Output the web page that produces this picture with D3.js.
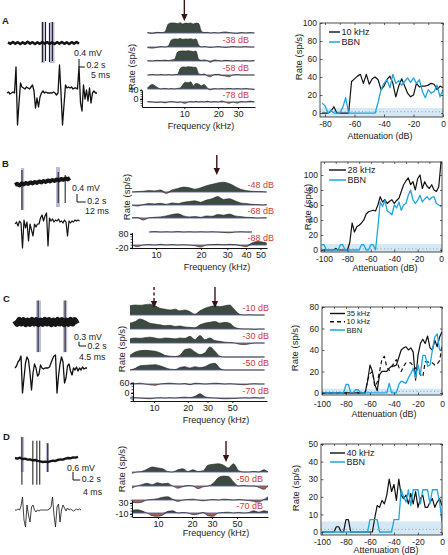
<!DOCTYPE html>
<html><head><meta charset="utf-8">
<script src="https://cdn.jsdelivr.net/npm/d3@7"></script>
<style>body{margin:0;background:#fff}svg{display:block}</style>
</head><body>
<svg id="chart" width="448" height="555"></svg>
<script>
// ================= DATA =================
const panelLetters = ["A", "B", "C", "D"];

// ---- left column: recordings (mV over sweep, s) ----
const traceDur = [2.4, 1.26, 1.77, 1.73];
const scaleBarMV = [0.4, 0.4, 0.3, 0.6];
const scaleBarLabels = [["0.4 mV", "0.2 s", "5 ms"], ["0.4 mV", "0.2 s", "12 ms"], ["0.3 mV", "0.2 s", "4.5 ms"], ["0.6 mV", "0.2 s", "4 ms"]];
const traceA = [0.03,-0.04,0.05,-0.03,0.04,-0.05,0.03,-0.04,0.06,-0.03,0.04,-0.05,0.03,-0.04,0.05,-0.03,0.04,-0.04,0.03,-0.05,0.04,-0.03,0.05,-0.04,0.03,-0.05,0.04,-0.03,0.05,-0.04];
const traceB = [0.00,0.06,-0.02,0.08,0.03,0.10,0.05,0.13,0.08,0.15,0.10,0.18,0.13,0.20,0.15,0.23,0.18,0.25,0.20,0.28,0.23,0.30,0.26,0.33,0.28,0.35];
const traceC = [0.1,-0.12,0.15,-0.1,0.12,-0.15,0.1,-0.12,0.14,-0.1,0.12,-0.14,0.1,-0.12,0.15,-0.1,0.12,-0.15,0.1,-0.12,0.14,-0.1,0.12,-0.14,0.1,-0.12,0.15,-0.1,0.12,-0.12];
const traceD = [0,-0.05,0.02,-0.08,-0.05,-0.12,-0.1,-0.18,-0.15,-0.22,-0.25,-0.3,-0.27,-0.3,-0.25,-0.2,-0.22,-0.15,-0.1,-0.12,-0.05,0,-0.02,0.05,0.03,0.08];
// spikes: time (s), upper & lower excursion (mV)
const spikeTimesA = [1.17, 1.27, 1.40, 1.50], spikeUpA = [1.05, 1.05, 1.0, 1.05], spikeDownA = [-0.95, -0.9, -0.95, -0.9];
const spikeTimesB = [0.16, 0.99, 1.15], spikeUpB = [0.75, 0.65, 0.5], spikeDownB = [-1.25, -0.9, -0.9];
const spikeTimesC = [0.66, 1.43], spikeUpC = [1.5, 1.5], spikeDownC = [-2.1, -2.1];
const spikeTimesD = [0.19, 0.49, 0.6, 0.68, 0.9], spikeUpD = [1.58, 1.3, 1.3, 1.3, 1.1], spikeDownD = [-2.0, -2.0, -2.0, -2.0, -1.05];
// highlighted windows: [t0, t1, top mV, bottom mV]
const windowsA = [[1.12, 1.24, 1.05, -1.0], [1.40, 1.57, 1.05, -1.0]];
const windowsB = [[0.14, 0.21, 0.85, -1.25], [0.94, 1.03, 0.9, -1.1]];
const windowsC = [[0.6, 0.74, 1.5, -2.1], [1.37, 1.49, 1.5, -2.1]];
const windowsD = [[0.16, 0.25, 1.58, -1.05], [0.85, 0.93, 1.13, -1.05]];
// spike waveforms (a.u.)
const waveA = [0,1,-1,0,1,0,26,-32,-10,10,6,5,4,6,5,4,6,8,2,-15,-5,-14,-4,0,2,0,1,0,0,0,0,1,0,-2,0,28,0,-32,-12,8,5,6,5,6,4,5,5,4,26,-10,-18,8,-6,3,-8,5,-10,0,2,0,0];
const waveB = [0,2,-2,3,1,-24,4,-4,2,-17,0,-6,-12,0,-3,0,0,6,9,3,8,11,-22,6,3,5,2,4,3,5,2,3,1,4,2,-12,3,1,3,2,4,3,4,3];
const waveC = [0,2,6,8,12,-25,-10,5,11,8,-5,-22,-5,4,0,-8,-6,3,0,-1,0,0,0,1,5,9,12,13,-25,-8,4,11,6,-15,-10,2,4,-3,-7,0,-2,1,-3,0,-2,1,-1,0,0];
const waveD = [0,0,1,0,4,13,-10,-17,5,-5,-12,3,5,0,-2,0,-1,0,0,0,0,0,0,1,3,13,-5,-17,3,6,-12,0,5,2,-1,2,0,1,0,-1,0,1,0,1,0];

// ---- middle column: frequency response at several levels (sp/s) ----
const freqA = [4.7,5.2,5.7,6.2,6.7,7.2,7.7,8.2,8.7,9.2,9.7,10.2,10.8,11.4,12,12.7,13.4,14.2,15,16,17,18.5,20,21.5,23,25,27,29.5,32,35,38,42];
const levelsA = [-28, -38, -48, -58, -68, -78];
const rowsA = [
  [2,-2,3,2,5,40,45,44,42,46,40,44,43,45,40,44,42,8,2,3,0,2,0,3,5,2,0,-2,2,0,2,0],
  [-3,-5,-2,2,0,5,32,36,35,38,34,36,35,37,33,36,10,0,2,0,-2,0,2,0,-2,0,2,0,0,2,0,0],
  [2,0,3,2,4,2,5,8,40,44,45,44,46,44,42,44,8,3,5,2,-6,5,2,0,3,2,0,2,0,2,0,3],
  [0,2,0,2,0,2,0,2,3,30,36,35,37,36,35,34,6,2,5,-4,-8,2,3,-2,-4,-8,0,2,0,0,0,0],
  [5,20,8,0,3,0,2,0,3,5,20,30,28,32,15,25,22,15,20,5,-4,2,0,2,0,3,0,2,0,2,0,-3],
  [2,0,-2,0,-4,0,2,0,-3,0,-4,-6,0,2,0,3,0,2,0,4,0,2,0,5,0,-6,0,-5,2,0,4,0]
];
const freqB = [6.9,7.5,8.2,9,9.8,10.7,11.7,12.8,14,15.3,16.7,18.2,19.9,21.7,23.7,25.9,28.3,30.9,33.7,36.8,40.2,43.9,47.9,52.3,55];
const levelsB = [-48, -58, -68, -78, -88];
const rowsB = [
  [0,3,5,10,8,15,-10,15,25,35,30,20,30,45,55,65,70,60,40,20,10,5,3,2,0],
  [0,-8,3,10,8,12,5,15,10,20,25,30,20,35,45,60,40,45,30,15,10,5,3,0,5],
  [2,3,-15,2,5,8,15,25,30,15,8,10,5,15,12,25,20,28,15,10,5,3,0,2,0],
  [null,null,null,0,3,0,2,0,3,0,2,0,2,0,2,0,-3,-6,0,2,0,0,null,null,null],
  [0,-12,0,3,0,5,0,3,0,2,0,-5,-15,0,3,5,2,5,3,-5,-12,15,25,20,15]
];
const freqC = [6.1,6.8,7.5,8.3,9.2,10.2,11.3,12.5,13.9,15.4,17,18.9,20.9,23.2,25.7,28.4,31.5,34.9,38.7,42.8,47.4,52.5,58.2,64.5,71.4,79.1,87.6,97];
const levelsC = [-10, -20, -30, -40, -50, -60, -70];
const rowsC = [
  [55,60,58,62,65,55,40,35,30,35,25,30,20,5,25,40,50,55,50,55,60,30,5,0,2,0,0,0],
  [35,45,60,50,35,30,25,20,22,15,18,12,10,8,25,35,40,45,35,40,35,10,2,0,0,-3,0,0],
  [25,30,28,32,35,30,25,30,28,25,30,28,40,20,45,20,30,15,10,5,3,0,-8,-10,-5,0,0,0],
  [10,30,38,40,38,35,25,10,5,3,10,45,50,30,15,25,60,35,5,0,0,0,0,0,0,0,0,0],
  [0,10,25,28,30,32,25,15,5,3,15,20,12,20,15,20,35,40,10,0,0,0,0,0,0,0,0,0],
  [0,2,5,0,-5,-8,0,3,5,2,0,3,-5,5,3,0,2,5,3,0,2,0,-3,-5,0,2,0,0],
  [0,2,0,-3,-5,0,2,0,2,0,3,5,3,10,25,8,2,0,-3,-5,-4,-3,0,2,0,3,0,2]
];
const freqD = [5.9,6.5,7.2,8,8.9,9.9,11,12.2,13.5,15,16.6,18.4,20.4,22.6,25.1,27.8,30.8,34.2,37.9,42,46.6,51.7,57.3,63.5,70.4,78,86.5,94];
const levelsD = [-40, -50, -60, -70];
const rowsD = [
  [-5,0,2,10,18,15,12,2,0,8,12,2,8,2,5,25,28,30,25,15,30,5,0,0,2,0,8,0],
  [-8,0,5,10,5,12,8,10,0,-8,-3,2,0,-10,-3,0,10,30,36,35,15,0,2,0,0,-5,-12,0],
  [-8,-10,-8,0,2,5,10,12,3,-5,0,2,3,0,-3,0,2,0,3,2,0,2,0,-2,-5,-8,2,12],
  [10,12,8,0,-10,-12,-8,6,8,0,2,0,-6,-4,2,-10,-12,0,2,3,0,2,0,2,8,3,8,5]
];
const labeledLevels = [[-38, -58, -78], [-48, -68, -88], [-10, -30, -50, -70], [-50, -70]];
const freqTicks = [[10, 20, 30], [10, 20, 30, 40, 50], [10, 20, 30, 50], [10, 20, 30, 50]];
const rateTicksMid = [[0, 40], [-20, 80], [0, 60], [-10, 30]];
const arrowFreqs = [[10], [25.5], [35], [40]];
const dashedArrowFreqs = [[], [], [10], []];

// ---- right column: rate vs attenuation ----
const attA = [-82,-80,-78,-76,-74,-72,-70,-68,-66,-64,-62,-60,-58,-56,-54,-52,-50,-48,-46,-44,-42,-40,-38,-36,-34,-32,-30,-28,-26,-24,-22,-20,-18,-16,-14,-12,-10,-8,-6,-4,-2,0];
const attB = [-102,-100,-98,-96,-94,-92,-90,-88,-86,-84,-82,-80,-78,-76,-74,-72,-70,-68,-66,-64,-62,-60,-58,-56,-54,-52,-50,-48,-46,-44,-42,-40,-38,-36,-34,-32,-30,-28,-26,-24,-22,-20,-18,-16,-14,-12,-10,-8,-6,-4,-2,0];
const attCD = [-100,-98,-96,-94,-92,-90,-88,-86,-84,-82,-80,-78,-76,-74,-72,-70,-68,-66,-64,-62,-60,-58,-56,-54,-52,-50,-48,-46,-44,-42,-40,-38,-36,-34,-32,-30,-28,-26,-24,-22,-20,-18,-16,-14,-12,-10,-8,-6,-4,-2,0];
const toneA10k = [0,0,0,2,7,0,0,0,0,0,35,38,41,43,33,43,32,38,40,37,26,30,37,41,33,18,30,38,30,22,18,20,33,29,30,30,31,33,32,26,30,28];
const bbnA = [11,8,0,3,0,0,0,6,17,0,0,0,0,0,0,0,0,0,0,12,26,33,37,28,43,33,36,31,35,39,34,39,33,37,24,17,26,22,24,31,18,26];
const toneB28k = [0,0,0,0,0,0,2,0,0,0,0,0,10,36,24,31,33,36,40,48,51,52,53,52,60,71,64,67,62,65,67,62,66,69,78,87,92,96,87,91,80,95,100,82,91,85,82,87,80,78,84,118];
const bbnB = [7,7,0,0,0,0,0,0,7,7,0,0,0,0,0,0,0,7,7,0,0,7,7,0,30,64,58,66,52,50,47,60,56,64,53,60,62,73,80,67,62,66,73,64,68,71,67,70,71,62,60,58];
const toneC35k = [0,0,0,0,0,0,0,0,0,0,0,0,0,0,0,0,0,0,0,11,26,20,8,2,17,20,20,20,23,25,25,26,33,40,42,43,40,42,38,12,35,46,50,46,53,42,40,49,43,52,57];
const toneC10k = [0,0,0,0,0,0,0,0,0,0,0,0,0,0,0,0,0,0,0,12,18,20,6,10,20,32,34,24,21,24,28,31,24,20,25,28,28,28,25,23,21,17,15,29,29,28,28,26,27,30,43];
const bbnC = [0,0,0,0,0,0,0,0,0,0,8,8,0,0,3,3,0,0,0,0,0,0,0,0,0,0,0,0,9,0,0,0,8,11,10,9,14,18,23,14,26,17,35,35,25,26,40,52,55,40,41];
const toneD40k = [0,0,0,0,0,0,3,3,0,0,7,7,0,0,0,0,0,0,0,0,0,0,8,15,14,18,16,21,30,23,27,18,30,21,19,21,16,22,16,23,14,19,21,14,14,17,19,14,17,19,15];
const bbnD = [0,0,0,0,0,0,0,0,0,0,0,0,0,0,0,0,0,0,0,0,7,7,7,7,0,0,0,0,0,0,7,7,7,24,20,17,24,15,24,24,24,16,24,24,24,16,24,24,24,17,6];
const legendA = ["10 kHz", "BBN"], legendB = ["28 kHz", "BBN"], legendC = ["35 kHz", "10 kHz", "BBN"], legendD = ["40 kHz", "BBN"];
const spontTop = [5.5, 8, 4, 6];      // spontaneous-rate band (sp/s)
const spontLine = [1.5, 1.5, 1.5, 1.5];
const xTicksA = [-80, -60, -40, -20, 0], xTicksBCD = [-100, -80, -60, -40, -20, 0];
const yTicksA = [0, 20, 40, 60, 80, 100], yTicksB = [0, 20, 40, 60, 80, 100], yTicksC = [0, 20, 40, 60, 80], yTicksD = [0, 10, 20, 30, 40, 50];

// ================= DRAW =================
const FONT = '"Liberation Sans", Arial, Helvetica, sans-serif';
const svg = d3.select("#chart").style("font-family", FONT);
const TXT = "#1a1a1a", CYAN = "#1ea6df", RED = "#d2383b";

function text(x, y, s, o = {}) {
  const t = svg.append("text").attr("x", x).attr("y", y).text(s)
    .attr("font-size", o.size || 9).attr("fill", o.fill || TXT)
    .attr("text-anchor", o.anchor || "start");
  if (o.weight) t.attr("font-weight", o.weight);
  if (o.rotate) t.attr("transform", `rotate(-90,${x},${y})`);
  return t;
}

// panel letters
[[2, 24], [2, 167], [3, 302], [3, 440]].forEach((p, i) => text(p[0], p[1], panelLetters[i], {size: 9.5, weight: "bold"}));

// ---- recordings ----
function recording(c) {
  const g = svg.append("g");
  const xt = d3.scaleLinear().domain([0, c.dur]).range([c.x0, c.x1]);
  const k = c.barPx / c.barMV;
  const ym = v => c.y0 - v * k;
  c.windows.forEach(w => g.append("rect").attr("x", xt(w[0])).attr("width", xt(w[1]) - xt(w[0]))
    .attr("y", ym(w[2])).attr("height", ym(w[3]) - ym(w[2])).attr("fill", "#adafd1").attr("opacity", 0.85));
  const n = c.trace.length;
  g.append("path").datum(c.trace)
    .attr("d", d3.line().x((d, i) => xt(i * c.dur / (n - 1))).y(d => ym(d)))
    .attr("fill", "none").attr("stroke", "#151515").attr("stroke-width", c.tw).attr("stroke-linejoin", "round");
  c.spikes.forEach((t, i) => g.append("line").attr("x1", xt(t)).attr("x2", xt(t))
    .attr("y1", ym(c.up[i])).attr("y2", ym(c.down[i])).attr("stroke", "#111").attr("stroke-width", 1));
  // scale bar
  const hb = xt(0.2) - xt(0);
  g.append("path").attr("d", `M${c.cx},${c.cy - c.barPx}V${c.cy}H${c.cx + hb}`).attr("fill", "none").attr("stroke", "#111").attr("stroke-width", 1);
  text(c.mvPos[0], c.mvPos[1], c.labels[0], {size: 8.8});
  text(c.cx + hb + 1.5, c.cy + c.sOff, c.labels[1], {size: 8.8});
  text(c.msPos[0], c.msPos[1], c.labels[2], {size: 8.8});
  // waveform
  const xw = d3.scaleLinear().domain([0, c.wave.length - 1]).range(c.wx);
  g.append("path").datum(c.wave).attr("d", d3.line().x((d, i) => xw(i)).y(d => c.wy - d))
    .attr("fill", "none").attr("stroke", "#111").attr("stroke-width", c.ww).attr("stroke-linejoin", "round");
}
recording({dur: traceDur[0], x0: 8, x1: 79, y0: 43, barPx: 8, barMV: scaleBarMV[0], trace: traceA, tw: 2.6,
  windows: windowsA, spikes: spikeTimesA, up: spikeUpA, down: spikeDownA, cx: 79, cy: 67, sOff: 0.5, labels: scaleBarLabels[0],
  mvPos: [74, 56], msPos: [91, 77.5], wave: waveA, wx: [7, 97], wy: 93, ww: 1.3});
recording({dur: traceDur[1], x0: 15, x1: 70, y0: 185, barPx: 8, barMV: scaleBarMV[1], trace: traceB, tw: 4,
  windows: windowsB, spikes: spikeTimesB, up: spikeUpB, down: spikeDownB, cx: 77, cy: 202, sOff: 1.5, labels: scaleBarLabels[1],
  mvPos: [72, 191], msPos: [85, 214], wave: waveB, wx: [15, 79.5], wy: 224, ww: 1.2});
recording({dur: traceDur[2], x0: 15, x1: 77, y0: 322, barPx: 4.3, barMV: scaleBarMV[2], trace: traceC, tw: 6,
  windows: windowsC, spikes: spikeTimesC, up: spikeUpC, down: spikeDownC, cx: 79, cy: 346, sOff: 2.5, labels: scaleBarLabels[2],
  mvPos: [74, 340], msPos: [79, 359.5], wave: waveC, wx: [15, 87], wy: 368, ww: 1.3});
recording({dur: traceDur[3], x0: 15, x1: 78, y0: 458, barPx: 8, barMV: scaleBarMV[3], trace: traceD, tw: 2.4,
  windows: windowsD, spikes: spikeTimesD, up: spikeUpD, down: spikeDownD, cx: 73, cy: 480, sOff: 2, labels: scaleBarLabels[3],
  mvPos: [67, 471], msPos: [83, 495], wave: waveD, wx: [15, 81], wy: 510, ww: 0.8});

// ---- frequency tuning panels ----
function tuning(c) {
  const g = svg.append("g");
  const x = d3.scaleLog().domain(c.fDom).range(c.xr);
  c.rows.forEach((vals, r) => {
    const base = c.bases[r];
    const pts = vals.map((v, i) => ({f: c.freq[i], v})).filter(d => d.v !== null);
    const cv = d3.curveMonotoneX;
    g.append("path").datum(pts).attr("d", d3.area().curve(cv).x(d => x(d.f)).y0(base).y1(d => base - Math.max(d.v, 0) * c.k))
      .attr("fill", "#3d4a42");
    g.append("path").datum(pts).attr("d", d3.area().curve(cv).x(d => x(d.f)).y0(base).y1(d => base - Math.min(d.v, 0) * c.k))
      .attr("fill", "#a6634b");
    g.append("line").attr("x1", x(pts[0].f)).attr("x2", x(pts[pts.length - 1].f)).attr("y1", base).attr("y2", base)
      .attr("stroke", "#5a5e96").attr("stroke-width", 0.9);
    g.append("path").datum(pts).attr("d", d3.line().curve(cv).x(d => x(d.f)).y(d => base - d.v * c.k))
      .attr("fill", "none").attr("stroke", "#222").attr("stroke-width", 0.6);
    if (c.labeled.includes(c.levels[r])) text(c.dbRight, base - 4, c.levels[r] + " dB", {anchor: "end", fill: RED});
  });
  // x axis
  const ax = g.append("g").attr("transform", `translate(0,${c.axisY})`)
    .call(d3.axisBottom(x).tickValues(c.fticks).tickFormat(d => String(d)).tickSize(2).tickSizeOuter(0).tickPadding(2));
  ax.selectAll("text").attr("font-size", 9).attr("fill", TXT).attr("font-family", FONT);
  ax.selectAll("line,path").attr("stroke", "#111");
  // y axis
  const y = d3.scaleLinear().domain(c.yDom).range(c.yRange);
  const ay = g.append("g").attr("transform", `translate(${c.axisX},0)`)
    .call(d3.axisLeft(y).tickValues(c.rticks).tickFormat(d => String(d)).tickSize(2).tickSizeOuter(0).tickPadding(1.5));
  ay.selectAll("text").attr("font-size", 9).attr("fill", TXT).attr("font-family", FONT);
  ay.selectAll("line,path").attr("stroke", "#111");
  const minor = d3.range(Math.ceil(c.yDom[0] / c.minorStep) * c.minorStep, c.yDom[1] + 0.01, c.minorStep);
  minor.forEach(v => g.append("line").attr("x1", c.axisX - 1.5).attr("x2", c.axisX).attr("y1", y(v)).attr("y2", y(v)).attr("stroke", "#111").attr("stroke-width", 0.7));
  text(c.rateLbl[0], c.rateLbl[1], "Rate (sp/s)", {rotate: true, anchor: "middle", size: 9.5});
  text(c.freqLbl[0], c.freqLbl[1], "Frequency (kHz)", {anchor: "middle", size: 9});
  // arrows
  const drawArrow = (f, dashed) => {
    const ax0 = x(f);
    g.append("line").attr("x1", ax0).attr("x2", ax0).attr("y1", c.arrowY[0]).attr("y2", c.arrowY[1] - 6)
      .attr("stroke", "#3a1216").attr("stroke-width", 1.4).attr("stroke-dasharray", dashed ? "3,2.5" : null);
    g.append("path").attr("d", `M${ax0 - 3.2},${c.arrowY[1] - 7}L${ax0 + 3.2},${c.arrowY[1] - 7}L${ax0},${c.arrowY[1]}Z`).attr("fill", "#3a1216");
  };
  c.arrows.forEach(f => drawArrow(f, false));
  c.dashed.forEach(f => drawArrow(f, true));
}
tuning({freq: freqA, rows: rowsA, levels: levelsA, labeled: labeledLevels[0], fDom: [4.2, 42.5], xr: [142, 255],
  bases: [33, 47, 61, 75, 89, 102], k: 0.225, dbRight: 249, axisY: 107, fticks: freqTicks[0],
  yDom: [-35, 40], yRange: [106.9, 90], axisX: 142, rticks: rateTicksMid[0], minorStep: 10,
  rateLbl: [135, 67], freqLbl: [201, 129], arrows: arrowFreqs[0], dashed: dashedArrowFreqs[0], arrowY: [0, 21]});
tuning({freq: freqB, rows: rowsB, levels: levelsB, labeled: labeledLevels[1], fDom: [6.9, 55.3], xr: [132, 267],
  bases: [192, 205, 218, 232, 245], k: 0.14, dbRight: 274, axisY: 248, fticks: freqTicks[1],
  yDom: [-25, 90], yRange: [248.7, 232.6], axisX: 132, rticks: rateTicksMid[1], minorStep: 20,
  rateLbl: [130, 197], freqLbl: [217, 270], arrows: arrowFreqs[1], dashed: dashedArrowFreqs[1], arrowY: [155, 175]});
tuning({freq: freqC, rows: rowsC, levels: levelsC, labeled: labeledLevels[2], fDom: [6.1, 102], xr: [130, 267],
  bases: [315, 329, 343, 357, 370, 384, 398], k: 0.167, dbRight: 269, axisY: 401, fticks: freqTicks[2],
  yDom: [-45, 65], yRange: [400.5, 382.1], axisX: 133, rticks: rateTicksMid[2], minorStep: 20,
  rateLbl: [125, 349], freqLbl: [216, 423], arrows: arrowFreqs[2], dashed: dashedArrowFreqs[2], arrowY: [287, 308]});
tuning({freq: freqD, rows: rowsD, levels: levelsD, labeled: labeledLevels[3], fDom: [5.9, 94], xr: [132, 268],
  bases: [472, 486, 500, 513], k: 0.275, dbRight: 263, axisY: 517, fticks: freqTicks[3],
  yDom: [-20, 40], yRange: [516.75, 500.25], axisX: 132, rticks: rateTicksMid[3], minorStep: 10,
  rateLbl: [125, 469], freqLbl: [216, 536], arrows: arrowFreqs[3], dashed: dashedArrowFreqs[3], arrowY: [441, 462]});

// ---- rate-level panels ----
function rateChart(c) {
  const g = svg.append("g");
  const b = c.box;
  const x = d3.scaleLinear().domain(c.xDom).range([b.l, b.r]);
  const y = d3.scaleLinear().domain(c.yDom).range([b.b, b.t]);
  const id = "clip" + c.id;
  svg.append("clipPath").attr("id", id).append("rect").attr("x", b.l).attr("y", b.t - 1).attr("width", b.r - b.l).attr("height", b.b - b.t + 1);
  g.append("rect").attr("x", b.l).attr("y", y(c.band)).attr("width", b.r - b.l).attr("height", b.b - y(c.band)).attr("fill", "#d4e8f5");
  g.append("line").attr("x1", b.l).attr("x2", b.r).attr("y1", y(c.dot)).attr("y2", y(c.dot))
    .attr("stroke", "#8c8c8c").attr("stroke-width", 0.8).attr("stroke-dasharray", "1,2.5");
  const inner = g.append("g").attr("clip-path", `url(#${id})`);
  c.series.forEach(s => inner.append("path").datum(s.v)
    .attr("d", d3.line().x((d, i) => x(c.att[i])).y(d => y(d)))
    .attr("fill", "none").attr("stroke", s.color).attr("stroke-width", s.w)
    .attr("stroke-dasharray", s.dash || null).attr("stroke-linejoin", "round"));
  g.append("rect").attr("x", b.l).attr("y", b.t).attr("width", b.r - b.l).attr("height", b.b - b.t)
    .attr("fill", "none").attr("stroke", "#222").attr("stroke-width", 0.8);
  const style = sel => { sel.select(".domain").remove(); sel.selectAll("text").attr("font-size", 8.5).attr("fill", TXT).attr("font-family", FONT); sel.selectAll("line").attr("stroke", "#222").attr("stroke-width", 0.7); };
  const minorX = d3.range(Math.ceil(c.xDom[0] / 10) * 10, c.xDom[1] + 0.01, 10);
  g.append("g").attr("transform", `translate(0,${b.b})`).call(d3.axisBottom(x).tickValues(c.xTicks).tickFormat(d => String(d)).tickSizeInner(-2.5).tickSizeOuter(0).tickPadding(c.xPad)).call(style);
  g.append("g").attr("transform", `translate(0,${b.t})`).call(d3.axisTop(x).tickValues(minorX).tickFormat("").tickSizeInner(-2).tickSizeOuter(0)).call(style);
  g.append("g").attr("transform", `translate(${b.l},0)`).call(d3.axisLeft(y).tickValues(c.yTicks).tickFormat(d => String(d)).tickSizeInner(-2.5).tickSizeOuter(0).tickPadding(3)).call(style);
  g.append("g").attr("transform", `translate(${b.r},0)`).call(d3.axisRight(y).tickValues(c.yTicks).tickFormat("").tickSizeInner(-2).tickSizeOuter(0)).call(style);
  text(c.xl[0], c.xl[1], "Attenuation (dB)", {anchor: "middle", size: 9});
  text(c.yl[0], c.yl[1], "Rate (sp/s)", {anchor: "middle", size: 9.5, rotate: true});
  c.legend.forEach((s, i) => {
    const ly = c.legY[i];
    g.append("line").attr("x1", c.legX[0]).attr("x2", c.legX[1]).attr("y1", ly).attr("y2", ly)
      .attr("stroke", c.series[i].color).attr("stroke-width", c.series[i].w + 0.2).attr("stroke-dasharray", c.series[i].dash || null);
    text(c.legX[1] + 1.5, ly + c.legSize * 0.35, s, {size: c.legSize});
  });
}
rateChart({id: "A", box: {l: 320, r: 443, t: 23, b: 117}, xDom: [-83.4, 0], yDom: [-4.4, 100], att: attA,
  xTicks: xTicksA, yTicks: yTicksA, band: spontTop[0], dot: spontLine[0], xPad: 3.5,
  series: [{v: toneA10k, color: "#111", w: 1.2}, {v: bbnA, color: CYAN, w: 1.3}],
  legend: legendA, legX: [329, 340], legY: [32, 42], legSize: 9, xl: [380, 139], yl: [302, 57]});
rateChart({id: "B", box: {l: 321, r: 442, t: 162, b: 252}, xDom: [-102.6, 0.8], yDom: [-2.7, 117.3], att: attB,
  xTicks: xTicksBCD, yTicks: yTicksB, band: spontTop[1], dot: spontLine[1], xPad: 3.5,
  series: [{v: toneB28k, color: "#111", w: 1.2}, {v: bbnB, color: CYAN, w: 1.3}],
  legend: legendB, legX: [329, 346], legY: [170, 180], legSize: 9, xl: [385, 271], yl: [311, 207]});
rateChart({id: "C", box: {l: 322, r: 442, t: 307, b: 395}, xDom: [-100, 0], yDom: [-1.9, 80], att: attCD,
  xTicks: xTicksBCD, yTicks: yTicksC, band: spontTop[2], dot: spontLine[2], xPad: 5.5,
  series: [{v: toneC35k, color: "#111", w: 1.2}, {v: toneC10k, color: "#111", w: 1.2, dash: "4,3"}, {v: bbnC, color: CYAN, w: 1.3}],
  legend: legendC, legX: [330, 345], legY: [313.5, 321.8, 330], legSize: 7.6, xl: [384, 417], yl: [298, 348]});
rateChart({id: "D", box: {l: 321, r: 442, t: 444, b: 535}, xDom: [-100.8, 0], yDom: [-1.7, 50], att: attCD,
  xTicks: xTicksBCD, yTicks: yTicksD, band: spontTop[3], dot: spontLine[3], xPad: 3.5,
  series: [{v: toneD40k, color: "#111", w: 1.2}, {v: bbnD, color: CYAN, w: 1.3}],
  legend: legendD, legX: [330, 345], legY: [453, 462], legSize: 9, xl: [386, 553], yl: [298.5, 488]});
</script>
</body></html>
